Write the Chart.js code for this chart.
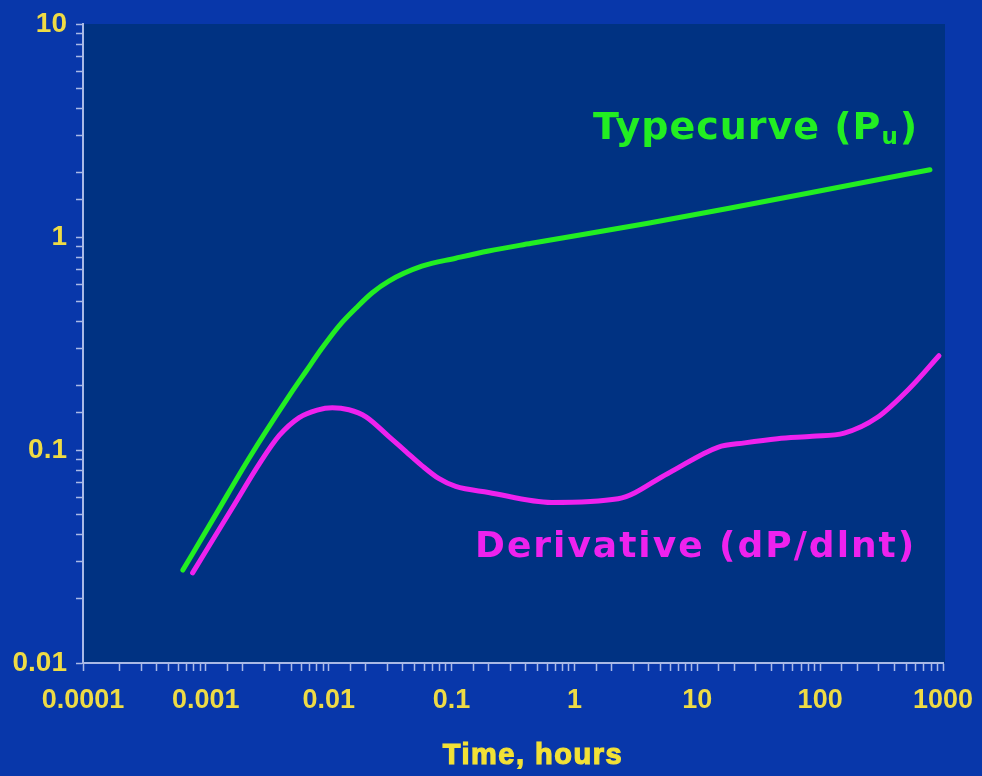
<!DOCTYPE html>
<html>
<head>
<meta charset="utf-8">
<script src="https://cdn.jsdelivr.net/npm/chart.js@4"></script>
<style>
    html, body { margin: 0; padding: 0; background: #0837aa; }
    #wrap { width: 982px; height: 776px; }
</style>
</head>
<body>
<div id="wrap"><canvas id="myChart" width="982" height="776"></canvas></div>
<script>
// time in hours (x) and dimensionless pressure (y)
const typeTime = [0.00065, 0.00122, 0.00226, 0.00478, 0.00656, 0.00883, 0.0121, 0.0167, 0.0225, 0.0309, 0.0573, 0.108, 0.2, 0.447, 3.97, 17.7, 114, 783];
const typeValue = [0.0273, 0.0504, 0.092, 0.18, 0.235, 0.301, 0.382, 0.464, 0.546, 0.621, 0.729, 0.795, 0.86, 0.934, 1.16, 1.36, 1.67, 2.07];

const derivTime = [0.00078, 0.00165, 0.00273, 0.00396, 0.00575, 0.00805, 0.0107, 0.0146, 0.0201, 0.0309, 0.0425, 0.0573, 0.0785, 0.108, 0.2, 0.65, 2.27, 5.77, 14.7, 24.3, 45, 86.5, 157, 291, 540, 927];
const derivValue = [0.0265, 0.0537, 0.0863, 0.117, 0.142, 0.154, 0.158, 0.1545, 0.1432, 0.1156, 0.0983, 0.0845, 0.0735, 0.0674, 0.0632, 0.0567, 0.059, 0.0776, 0.103, 0.108, 0.113, 0.116, 0.12, 0.142, 0.196, 0.277];

const xTickLabels = ['0.0001', '0.001', '0.01', '0.1', '1', '10', '100', '1000'];
const yTickLabels = ['0.01', '0.1', '1', '10'];

const axisColor = '#a9b9e6';
const tickYellow = '#eedb45';

function toPoints(xs, ys) {
    return xs.map((x, i) => ({ x: x, y: ys[i] }));
}

// pick label for a power of ten, blank for the minor ticks
function decadeLabel(value, labels, firstExp) {
    const e = Math.log10(value);
    if (Math.abs(e - Math.round(e)) > 1e-6) return '';
    return labels[Math.round(e) - firstExp] || '';
}

const plotBackground = {
    id: 'plotBackground',
    beforeDraw(chart) {
        const { ctx, chartArea } = chart;
        ctx.save();
        ctx.fillStyle = '#003282';
        ctx.fillRect(chartArea.left, chartArea.top, chartArea.right - chartArea.left + 2, chartArea.bottom - chartArea.top);
        ctx.restore();
    }
};

const annotations = {
    id: 'annotations',
    afterDraw(chart) {
        const ctx = chart.ctx;
        ctx.save();
        ctx.textBaseline = 'alphabetic';
        ctx.textAlign = 'left';

        // Typecurve (Pu)
        ctx.fillStyle = '#22ee22';
        ctx.letterSpacing = '1px';
        ctx.font = 'bold 38px "DejaVu Sans"';
        let x = 593;
        const t1 = 'Typecurve (P';
        ctx.fillText(t1, x, 139);
        x += ctx.measureText(t1).width;
        ctx.font = 'bold 23px "DejaVu Sans"';
        ctx.fillText('u', x, 144);
        x += ctx.measureText('u').width + 1;
        ctx.font = 'bold 38px "DejaVu Sans"';
        ctx.fillText(')', x, 139);

        // Derivative
        ctx.fillStyle = '#ee22ee';
        ctx.letterSpacing = '2px';
        ctx.font = 'bold 36px "DejaVu Sans"';
        ctx.fillText('Derivative (dP/dlnt)', 475, 557);

        // axis title
        ctx.fillStyle = '#f2e136';
        ctx.strokeStyle = '#f2e136';
        ctx.lineWidth = 1.2;
        ctx.letterSpacing = '1.5px';
        ctx.font = 'bold 29px "Liberation Sans"';
        ctx.textAlign = 'center';
        ctx.fillText('Time, hours', 533, 764);
        ctx.strokeText('Time, hours', 533, 764);
        ctx.restore();
    }
};

const ctx = document.getElementById('myChart').getContext('2d');

const chart = new Chart(ctx, { //eslint-disable-line
    type: 'line',
    data: {
        datasets: [
            {
                label: 'Typecurve (Pu)',
                data: toPoints(typeTime, typeValue),
                borderColor: '#22ee22',
                borderWidth: 5,
                borderCapStyle: 'round',
                pointRadius: 0,
                cubicInterpolationMode: 'monotone'
            },
            {
                label: 'Derivative (dP/dlnt)',
                data: toPoints(derivTime, derivValue),
                borderColor: '#ee22ee',
                borderWidth: 5,
                borderCapStyle: 'round',
                pointRadius: 0,
                cubicInterpolationMode: 'monotone'
            }
        ]
    },
    options: {
        responsive: false,
        animation: false,
        events: [],
        layout: { padding: { top: 24, right: 39, left: 0, bottom: 0 } },
        plugins: {
            legend: { display: false },
            tooltip: { enabled: false }
        },
        scales: {
            x: {
                type: 'logarithmic',
                min: 0.0001,
                max: 1000,
                afterFit: (scale) => {
                    scale.height = 113;
                    scale.paddingLeft = 0;
                    scale.paddingRight = 0;
                },
                border: { color: axisColor, width: 2 },
                grid: {
                    drawOnChartArea: false,
                    drawTicks: true,
                    tickLength: 8,
                    tickColor: axisColor,
                    tickWidth: 1.5
                },
                ticks: {
                    autoSkip: false,
                    maxRotation: 0,
                    padding: 13,
                    color: tickYellow,
                    font: { family: '"Liberation Sans", Arial, sans-serif', size: 27, weight: 'bold' },
                    callback: (v) => decadeLabel(v, xTickLabels, -4)
                }
            },
            y: {
                type: 'logarithmic',
                min: 0.01,
                max: 10,
                afterFit: (scale) => {
                    scale.width = 83;
                    scale.paddingTop = 0;
                    scale.paddingBottom = 0;
                },
                border: { color: axisColor, width: 2 },
                grid: {
                    drawOnChartArea: false,
                    drawTicks: true,
                    tickLength: 7,
                    tickColor: axisColor,
                    tickWidth: 1.5
                },
                ticks: {
                    autoSkip: false,
                    padding: 9,
                    color: tickYellow,
                    font: { family: '"Liberation Sans", Arial, sans-serif', size: 28, weight: 'bold' },
                    callback: (v) => decadeLabel(v, yTickLabels, -2)
                }
            }
        }
    },
    plugins: [plotBackground, annotations]
});
</script>
</body>
</html>
